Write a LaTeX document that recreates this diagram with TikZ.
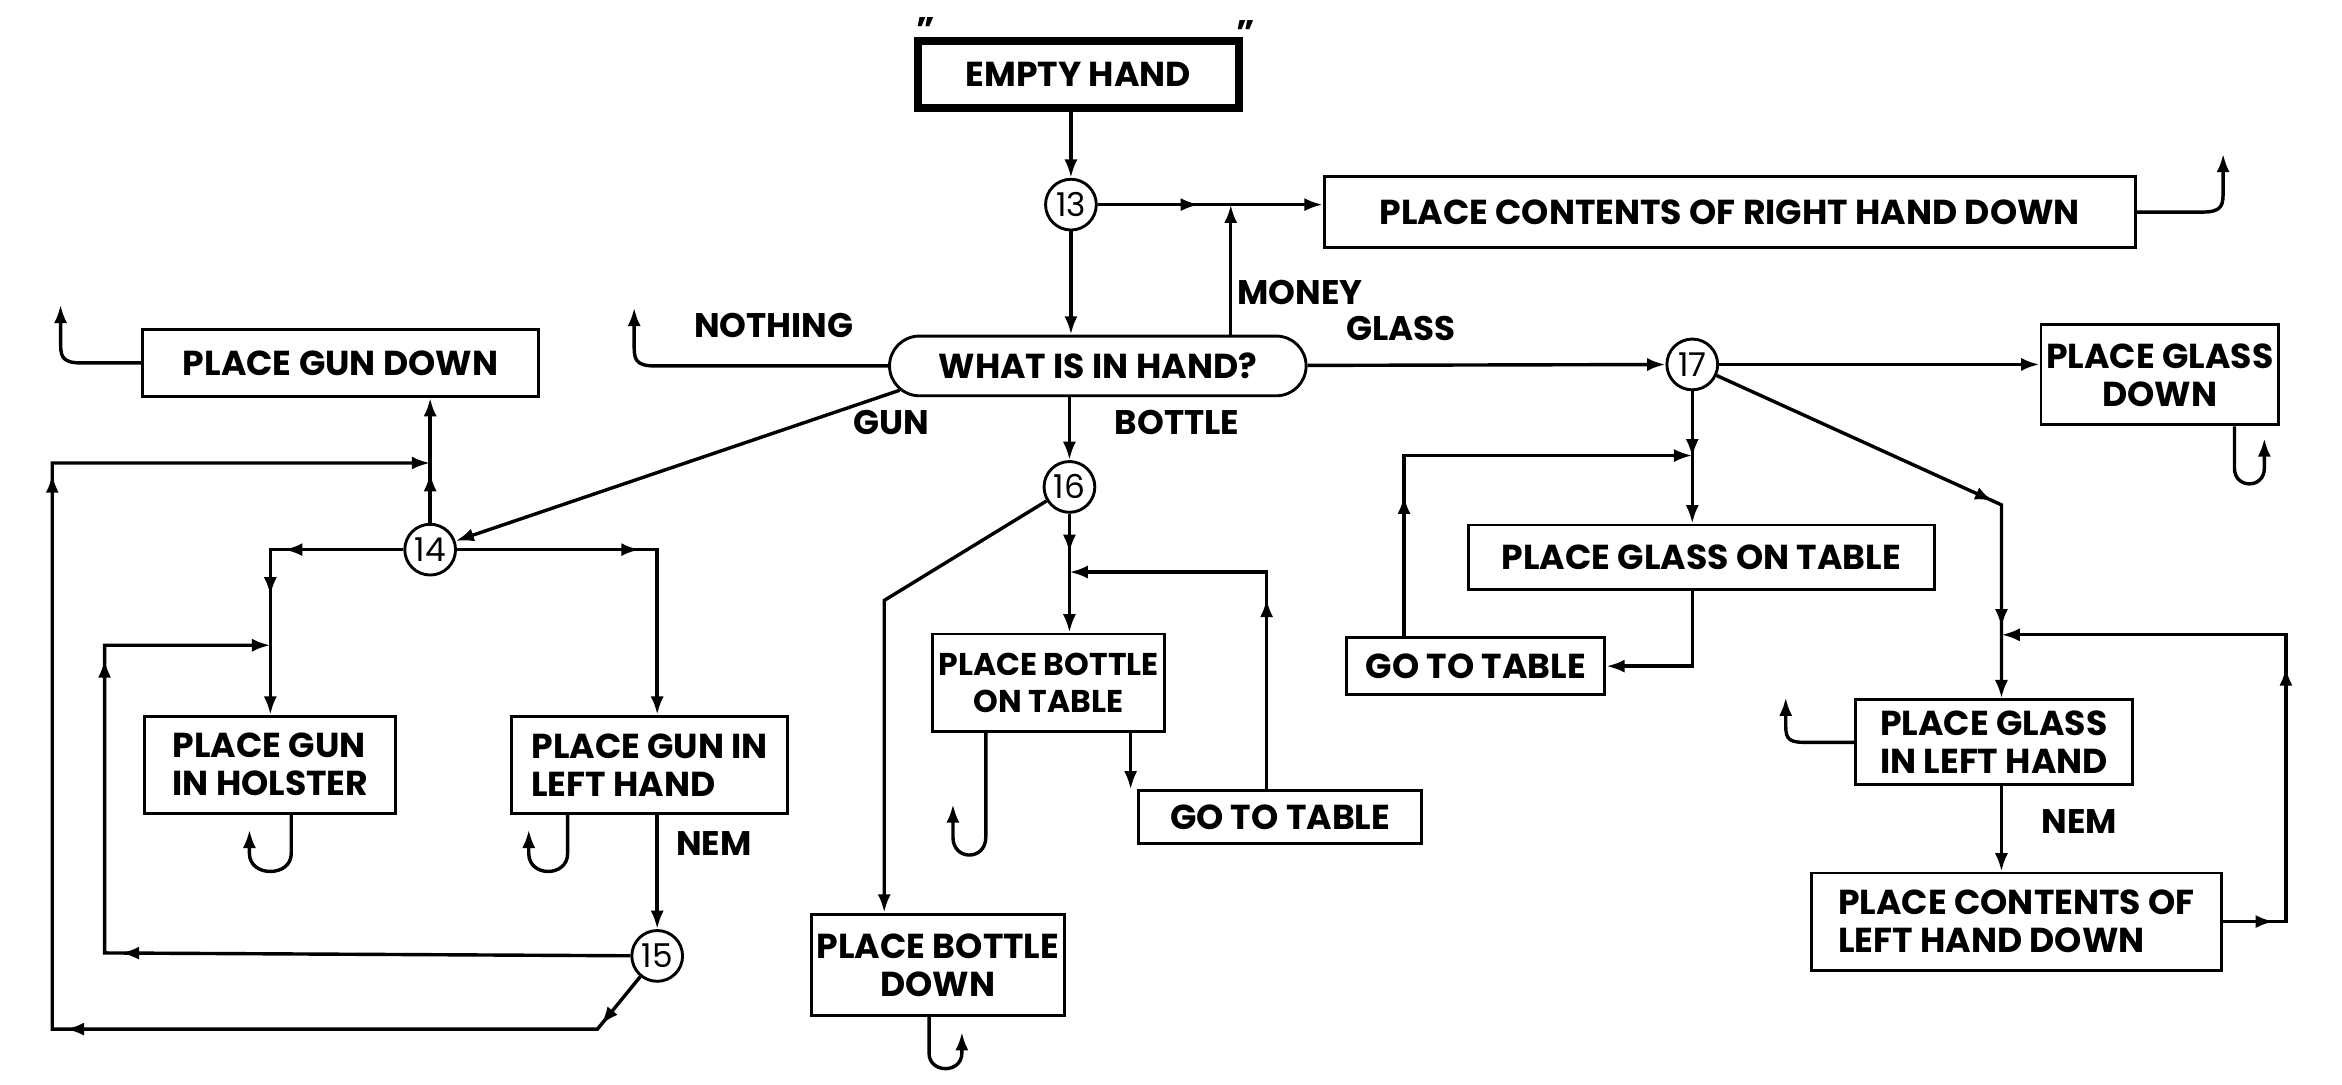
\documentclass[tikz,border=0pt]{standalone}
\usepackage{fontspec}
\setmainfont{Poppins}
\usetikzlibrary{arrows.meta,shapes.misc,decorations.markings,positioning}

\tikzset{
  box/.style={draw,line width=1.1pt,align=center,inner sep=2pt,font=\bfseries\fontsize{13.2}{14.5}\selectfont},
  num/.style={draw,circle,line width=1.1pt,minimum size=0.68cm,inner sep=0pt,font=\fontsize{12.5}{12.5}\selectfont},
  lbl/.style={inner sep=0pt,font=\bfseries\fontsize{13}{13}\selectfont},
  flow/.style={line width=1.3pt,-{Latex[length=7pt,width=5pt]}},
  tipat/.style={postaction={decorate,decoration={markings,mark=at position #1 with {\arrow{Latex[length=7pt,width=5pt]}}}}},
}

\begin{document}
\begin{tikzpicture}[x=0.02cm,y=-0.02cm]
\useasboundingbox (0,0) rectangle (1568,726);

\node[box,line width=3pt,minimum width=4.3cm,minimum height=0.9cm] (empty) at (722,50) {EMPTY HAND};
\node[lbl] (ql) at (620,20) {"};
\node[lbl] (qr) at (834,22) {"};
\node[num] (n13) at (717,137) {13};
\node[box,minimum width=10.86cm,minimum height=0.96cm] (rhand) at (1158,142) {PLACE CONTENTS OF RIGHT HAND DOWN};
\node[box,rounded rectangle,minimum width=5.72cm,minimum height=0.8cm] (what) at (735,245) {WHAT IS IN HAND?};

\node[lbl] (nothing) at (518,218) {NOTHING};
\node[lbl,anchor=west] (money) at (828,196) {MONEY};
\node[lbl] (glass) at (938,220) {GLASS};
\node[lbl] (gun) at (597,283) {GUN};
\node[lbl] (bottle) at (788,283) {BOTTLE};

\node[num] (n17) at (1133,244) {17};
\node[box,minimum width=3.14cm,minimum height=1.34cm] (glassdown) at (1446,251) {PLACE GLASS\\DOWN};
\node[box,minimum width=6.24cm,minimum height=0.86cm] (glasstable) at (1139,373) {PLACE GLASS ON TABLE};
\node[box,minimum width=3.46cm,minimum height=0.76cm] (gotable2) at (988,446) {GO TO TABLE};
\node[box,align=left,minimum width=3.7cm,minimum height=1.14cm] (glassleft) at (1335,497) {PLACE GLASS\\IN LEFT HAND};
\node[box,align=left,minimum width=5.5cm,minimum height=1.3cm] (lefthand) at (1350,617) {PLACE CONTENTS OF\\LEFT HAND DOWN};
\node[lbl] (nem2) at (1392,550) {NEM};

\node[box,minimum width=5.3cm,minimum height=0.9cm] (gundown) at (228,243) {PLACE GUN DOWN};
\node[num] (n14) at (288,368) {14};
\node[box,align=left,minimum width=3.36cm,minimum height=1.3cm] (holster) at (181,512) {PLACE GUN\\IN HOLSTER};
\node[box,align=left,minimum width=3.7cm,minimum height=1.3cm] (gunleft) at (435,512) {PLACE GUN IN\\LEFT HAND};
\node[num] (n15) at (440,640) {15};
\node[lbl] (nem1) at (478,565) {NEM};

\node[num] (n16) at (716,326) {16};
\node[box,font=\bfseries\fontsize{12}{14}\selectfont,minimum width=3.1cm,minimum height=1.3cm] (bottletable) at (702,457) {PLACE BOTTLE\\ON TABLE};
\node[box,minimum width=3.8cm,minimum height=0.7cm] (gotable1) at (857,547) {GO TO TABLE};
\node[box,minimum width=3.3cm,minimum height=1.36cm] (bottledown) at (628,646) {PLACE BOTTLE\\DOWN};

\coordinate (jm) at (824,137);
\coordinate (jg) at (1133,305);
\coordinate (kg) at (1340,338);
\coordinate (jl) at (1340,425);
\coordinate (jo) at (288,310);
\coordinate (jh) at (181,432);
\coordinate (c15a) at (70,638);
\coordinate (c15b) at (400,689);
\coordinate (c15c) at (35,689);
\coordinate (jb) at (716,383);
\coordinate (kb) at (592,402);
\coordinate (bt) at ([xshift=1.1cm]bottletable.south);

% top
\draw[flow] (n13 |- empty.south) -- (n13);
\draw[flow,tipat=0.45] (n13.east) -- (n13.east -| rhand.west);
\draw[flow] (what.north -| jm) -- (jm);
\draw[flow] (n13) -- (n13 |- what.north);
\draw[flow] (rhand.east) -- ++(44,0) .. controls +(14,0) and +(0,10) .. ++(14,-15) -- ++(0,-24);
\draw[flow] (what.west) -- ++(-156,0) .. controls +(-14,0) and +(0,10) .. ++(-14,-15) -- ++(0,-24);

% glass
\draw[flow] (what) -- (n17);
\draw[flow] (n17) -- (n17 -| glassdown.west);
\draw[flow] ([xshift=1cm]glassdown.south) -- ++(0,28) .. controls +(0,14) and +(0,14) .. ++(20,0) -- ++(0,-20);
\draw[flow,tipat=0.5] (n17) -- (n17 |- glasstable.north);
\draw[flow] (glasstable.south -| n17) |- (gotable2.east);
\draw[flow,tipat=0.3] ([xshift=-0.96cm]gotable2.north) |- (jg);
\draw[flow,tipat=0.6,tipat=0.86] (n17) -- (kg) -- (kg |- glassleft.north);
\draw[flow] (glassleft.south -| jl) -- (jl |- lefthand.north);
\draw[flow,tipat=0.08,tipat=0.5] (lefthand.east) -- ++(42,0) |- (jl);
\draw[flow] (glassleft.west) -- ++(-34,0) .. controls +(-12,0) and +(0,10) .. ++(-12,-14) -- ++(0,-16);

% gun
\draw[flow] (what.187) -- (n14);
\draw[flow,tipat=0.4] (n14) -- (n14 |- gundown.south);
\draw[flow] (gundown.west) -- ++(-40,0) .. controls +(-14,0) and +(0,10) .. ++(-14,-15) -- ++(0,-24);
\draw[flow,tipat=0.4,tipat=0.6] (n14) -| (holster.north);
\draw[flow,tipat=0.5] (n14) -| (n15 |- gunleft.north);
\draw[flow] ([xshift=0.28cm]holster.south) -- ++(0,26) .. controls +(0,16) and +(0,16) .. ++(-28,0) -- ++(0,-16);
\draw[flow] ([xshift=-1.1cm]gunleft.south) -- ++(0,26) .. controls +(0,16) and +(0,16) .. ++(-26,0) -- ++(0,-16);
\draw[flow] (n15 |- gunleft.south) -- (n15);
\draw[flow,tipat=0.51,tipat=0.82] (n15) -- (c15a) |- (jh);
\draw[flow,tipat=0.04,tipat=0.385,tipat=0.75] (n15) -- (c15b) -- (c15c) |- (jo);

% bottle
\draw[flow] (what.south -| n16) -- (n16);
\draw[flow,tipat=0.33] (n16) -- (n16 |- bottletable.north);
\draw[flow] (bt) -- (bt |- gotable1.north);
\draw[flow,tipat=0.46] ([xshift=-0.18cm]gotable1.north) |- (jb);
\draw[flow] ([xshift=-0.84cm]bottletable.south) -- ++(0,70) .. controls +(0,16) and +(0,16) .. ++(-22,0) -- ++(0,-22);
\draw[flow] (n16) -- (kb) -- (kb |- bottledown.north);
\draw[flow] ([xshift=-0.12cm]bottledown.south) -- ++(0,24) .. controls +(0,14) and +(0,14) .. ++(22,0) -- ++(0,-14);
\end{tikzpicture}
\end{document}
